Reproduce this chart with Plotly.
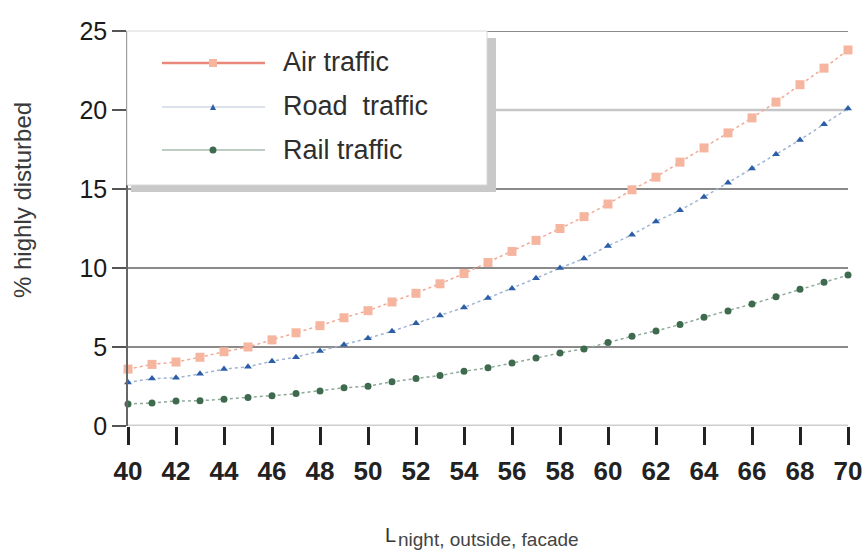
import plotly.graph_objects as go

# ---- data ----
levels = [40, 41, 42, 43, 44, 45, 46, 47, 48, 49, 50, 51, 52, 53, 54, 55,
          56, 57, 58, 59, 60, 61, 62, 63, 64, 65, 66, 67, 68, 69, 70]
air = [3.6, 3.9, 4.05, 4.35, 4.7, 5.0, 5.45, 5.9, 6.35, 6.85, 7.3, 7.85, 8.4, 9.0,
       9.65, 10.35, 11.05, 11.75, 12.5, 13.25, 14.05, 14.95, 15.75, 16.7, 17.6,
       18.55, 19.5, 20.5, 21.6, 22.65, 23.8]
road = [2.75, 3.0, 3.05, 3.3, 3.6, 3.75, 4.1, 4.35, 4.75, 5.15, 5.55, 6.0, 6.5, 7.0,
        7.5, 8.1, 8.7, 9.35, 10.0, 10.6, 11.4, 12.1, 12.95, 13.65, 14.5, 15.4,
        16.3, 17.2, 18.1, 19.1, 20.1]
rail = [1.4, 1.45, 1.58, 1.6, 1.7, 1.8, 1.92, 2.05, 2.22, 2.42, 2.52, 2.8, 3.0, 3.2,
        3.47, 3.68, 3.98, 4.3, 4.62, 4.88, 5.28, 5.68, 6.02, 6.42, 6.88, 7.28,
        7.72, 8.18, 8.65, 9.1, 9.55]
series_names = ["Air traffic", "Road\u00a0 traffic", "Rail traffic"]
x_ticks = [40, 42, 44, 46, 48, 50, 52, 54, 56, 58, 60, 62, 64, 66, 68, 70]
y_ticks = [0, 5, 10, 15, 20, 25]

FONT = "Liberation Sans, Arial, Helvetica, sans-serif"

# layout geometry (pixels)
W, H = 863, 554
PL, PR, PT, PB = 128, 848, 31, 426   # plot area
ML, MR, MT, MB = PL, W - PR, PT, H - PB
PW = PR - PL
PH = PB - PT


def px(p):
    return (p - PL) / PW


def py(p):
    return (PB - p) / PH


fig = go.Figure()

styles = [
    dict(line=dict(color="#f2a994", width=1.5, dash="dot"),
         marker=dict(symbol="square", size=9, color="#f6b59e")),
    dict(line=dict(color="#9fb4d2", width=1.5, dash="dot"),
         marker=dict(symbol="triangle-up", size=7, color="#2c5ea8")),
    dict(line=dict(color="#8ea99a", width=1.5, dash="dot"),
         marker=dict(symbol="circle", size=7, color="#3e6a4e")),
]
for name, ys, st in zip(series_names, [air, road, rail], styles):
    fig.add_trace(go.Scatter(x=levels, y=ys, mode="lines+markers", name=name,
                             line=st["line"], marker=st["marker"],
                             cliponaxis=False, showlegend=False))

shapes = []
# gridlines
for v in y_ticks:
    if v in (0, 20):
        col, wd = ("#cfcfcf", 3) if v == 0 else ("#c6c6c6", 2.5)
    else:
        col, wd = "#8a8a8a", 2
    shapes.append(dict(type="line", xref="paper", yref="y", x0=0, x1=1, y0=v, y1=v,
                       line=dict(color=col, width=wd), layer="below"))

# legend box shadow + box
shapes.append(dict(type="rect", xref="paper", yref="paper",
                   x0=px(486), x1=px(496), y0=py(192), y1=py(38),
                   fillcolor="#c9c9c9", line=dict(width=0), layer="above"))
shapes.append(dict(type="rect", xref="paper", yref="paper",
                   x0=px(131), x1=px(496), y0=py(192), y1=py(185),
                   fillcolor="#c9c9c9", line=dict(width=0), layer="above"))
shapes.append(dict(type="rect", xref="paper", yref="paper",
                   x0=px(127), x1=px(487), y0=py(185), y1=py(31),
                   fillcolor="white", line=dict(color="#d8d8d8", width=1),
                   layer="above"))

# legend glyphs
leg_y = [63, 107, 150]
leg_line = [("#e8877a", 2.5), ("#cfd8e3", 1.5), ("#a9bcb0", 1.5)]
for yy, (c, w) in zip(leg_y, leg_line):
    shapes.append(dict(type="line", xref="paper", yref="paper",
                       x0=px(162), x1=px(265), y0=py(yy), y1=py(yy),
                       line=dict(color=c, width=w), layer="above"))
mx = 213
# air square
shapes.append(dict(type="rect", xref="paper", yref="paper",
                   x0=px(mx - 4), x1=px(mx + 4), y0=py(63 + 4), y1=py(63 - 4),
                   fillcolor="#f6b59e", line=dict(width=0), layer="above"))
# road triangle
shapes.append(dict(type="path", xref="paper", yref="paper",
                   path=f"M {px(mx - 3)},{py(110)} L {px(mx + 3)},{py(110)} L {px(mx)},{py(104)} Z",
                   fillcolor="#2c5ea8", line=dict(width=0), layer="above"))
# rail circle
shapes.append(dict(type="circle", xref="paper", yref="paper",
                   x0=px(mx - 3.5), x1=px(mx + 3.5), y0=py(150 + 3.5), y1=py(150 - 3.5),
                   fillcolor="#3e6a4e", line=dict(width=0), layer="above"))

annotations = []
for yy, name in zip([62, 106, 150], series_names):
    annotations.append(dict(x=px(281), y=py(yy), xref="paper", yref="paper",
                            xanchor="left", yanchor="middle", showarrow=False,
                            text=name, font=dict(family=FONT, size=27, color="#2e2e2e")))
# axis titles
annotations.append(dict(x=px(23), y=py(200), xref="paper", yref="paper",
                        xanchor="center", yanchor="middle", showarrow=False,
                        text="% highly disturbed", textangle=-90,
                        font=dict(family=FONT, size=24, color="#3a3a3a")))
annotations.append(dict(x=px(398), y=py(535), xref="paper", yref="paper",
                        xanchor="right", yanchor="middle", showarrow=False,
                        text="L", font=dict(family=FONT, size=20, color="#333333")))
annotations.append(dict(x=px(396), y=py(539), xref="paper", yref="paper",
                        xanchor="left", yanchor="middle", showarrow=False,
                        text="night, outside, facade",
                        font=dict(family=FONT, size=19, color="#444444")))

fig.update_layout(
    width=W, height=H,
    margin=dict(l=ML, r=MR, t=MT, b=MB, pad=0, autoexpand=False),
    paper_bgcolor="white", plot_bgcolor="white",
    showlegend=False,
    shapes=shapes, annotations=annotations,
    xaxis=dict(range=[40, 70], tickvals=x_ticks, ticktext=[str(t) for t in x_ticks],
               automargin=False,
               showgrid=False, zeroline=False, showline=False,
               ticks="outside", ticklen=18, tickwidth=2.5, tickcolor="#222222",
               ticklabelstandoff=4,
               tickfont=dict(family=FONT, size=26, color="#222222", weight="bold")),
    yaxis=dict(range=[0, 25], tickvals=y_ticks, ticktext=[str(t) for t in y_ticks],
               automargin=False,
               showgrid=False, zeroline=False, showline=True, linecolor="#666666",
               linewidth=1.5,
               ticks="outside", ticklen=14, tickwidth=1.5, tickcolor="#555555",
               tickfont=dict(family=FONT, size=25, color="#1a1a1a")),
)

fig.write_html(
    "out.html",
    config={"displayModeBar": False},
    post_script="document.body.style.margin='0';document.body.style.overflow='hidden';",
)
